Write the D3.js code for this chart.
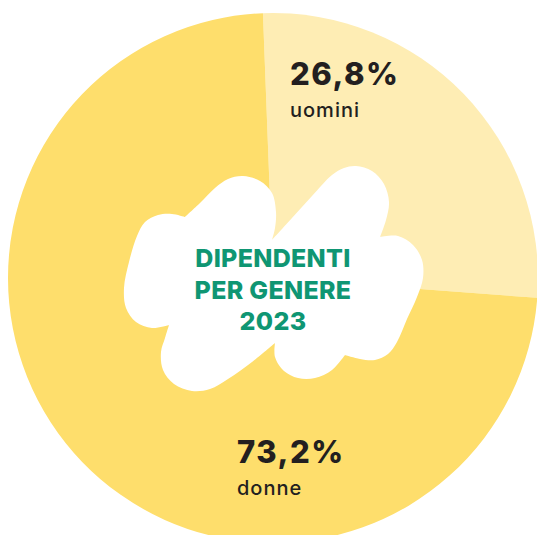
<!DOCTYPE html>
<html lang="it">
<head>
<meta charset="UTF-8">
<script src="https://d3js.org/d3.v7.min.js"></script>
<style>
  body { margin: 0; background: #fff; }
  svg { display: block; }
  .pct { font-family: Inter, "Noto Sans", sans-serif; font-weight: 800; font-size: 31px; fill: #231f20; letter-spacing: 1.5px; }
  .lbl { font-family: Inter, "Noto Sans", sans-serif; font-weight: 500; font-size: 20px; fill: #231f20; letter-spacing: 1px; }
  .title { font-family: Inter, "Noto Sans", sans-serif; font-weight: 800; font-size: 25px; fill: #0f9673; letter-spacing: 0.3px; }
</style>
<title>Dipendenti per genere 2023</title>
</head>
<body>
<svg id="chart" width="537" height="535"></svg>
<script>
  // data
  var categories = ["uomini", "donne"];
  var values = [26.8, 73.2];
  var valueLabels = ["26,8%", "73,2%"];
  var colors = ["#feedb4", "#fede6c"];
  var titleLines = ["DIPENDENTI", "PER GENERE", "2023"];

  var svg = d3.select("#chart");
  var cx = 273, cy = 278, radius = 265;

  var pieLayer = svg.append("g").attr("transform", "translate(" + cx + "," + cy + ")");
  var cloudLayer = svg.append("g");
  var g = svg.append("g").attr("transform", "translate(" + cx + "," + cy + ")");

  var pie = d3.pie().sort(null).startAngle(-0.038).endAngle(2 * Math.PI - 0.038);
  var arc = d3.arc().innerRadius(0).outerRadius(radius);

  var slices = pie(values);

  pieLayer.selectAll("path.slice")
    .data(slices)
    .enter().append("path")
    .attr("class", "slice")
    .attr("d", arc)
    .attr("fill", function (d, i) { return colors[i]; });

  // white cloud in the middle, page coords; each lobe runs notch to notch
  var lobes = [
    [[185, 217], [200, 203], [215, 188], [228, 179], [243, 176], [260, 181], [272, 193], [276, 212], [275, 228], [272, 240]],
    [[272, 240], [292, 218], [312, 196], [332, 175], [344, 168], [356, 166], [372, 171], [384, 184], [389, 202], [386, 220], [380, 237]],
    [[380, 237], [398, 236], [413, 245], [422, 260], [423, 278], [417, 297], [407, 319], [397, 342], [388, 354], [375, 360], [360, 359], [345, 355]],
    [[345, 355], [332, 370], [315, 378], [298, 378], [284, 371], [275, 357], [275, 343]],
    [[275, 343], [252, 362], [228, 379], [210, 389], [192, 391], [174, 384], [163, 370], [161, 352], [165, 338], [169, 325]],
    [[169, 325], [152, 328], [136, 322], [126, 308], [124, 288], [129, 262], [137, 236], [145, 222], [158, 215], [172, 214], [185, 217]]
  ];

  var lobeLine = d3.line().curve(d3.curveCatmullRom.alpha(0.5));
  var cloudPath = lobes.map(function (pts, i) {
    var s = lobeLine(pts);
    return i === 0 ? s : "L" + s.slice(1);
  }).join("") + "Z";

  cloudLayer.append("path")
    .attr("d", cloudPath)
    .attr("fill", "#fff");

  // centre title
  g.selectAll("text.title")
    .data(titleLines)
    .enter().append("text")
    .attr("class", "title")
    .attr("text-anchor", "middle")
    .attr("x", 0)
    .attr("y", function (d, i) { return -11 + i * 31.5; })
    .text(function (d) { return d; });

  // slice labels
  var labelPos = [[17, -193], [-36, 185]];

  var labels = g.selectAll("g.label")
    .data(slices)
    .enter().append("g")
    .attr("class", "label")
    .attr("transform", function (d, i) { return "translate(" + labelPos[i][0] + "," + labelPos[i][1] + ")"; });

  labels.append("text")
    .attr("class", "pct")
    .text(function (d, i) { return valueLabels[i]; });

  labels.append("text")
    .attr("class", "lbl")
    .attr("y", 32)
    .text(function (d, i) { return categories[i]; });
</script>
</body>
</html>
